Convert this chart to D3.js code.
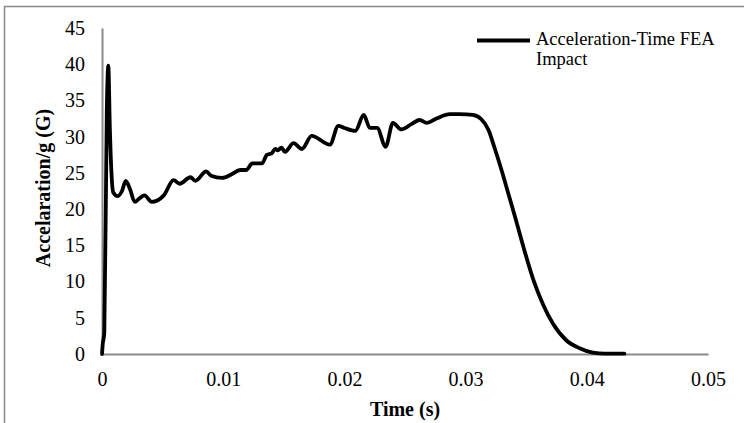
<!DOCTYPE html>
<html>
<head>
<meta charset="utf-8">
<script src="https://cdn.jsdelivr.net/npm/d3@7"></script>
<style>
  body { margin: 0; background: #fff; }
  text { font-family: "Liberation Serif", "Times New Roman", serif; fill: #000; }
</style>
</head>
<body>
<div id="chart"></div>
<script>
// data: time in s, acceleration in G
const times = [
  0, 0.00005, 0.00019, 0.0004, 0.00052, 0.00065, 0.00078, 0.00093, 0.0013, 0.00165,
  0.00196, 0.0023, 0.0027, 0.0031, 0.0035, 0.0041, 0.0051, 0.0059, 0.0064, 0.0073,
  0.0077, 0.0086, 0.009, 0.0099, 0.0107, 0.0114, 0.0119, 0.0124, 0.0132, 0.0136,
  0.014, 0.0143, 0.0145, 0.0148, 0.0151, 0.0158, 0.0165, 0.0173, 0.0188, 0.0195,
  0.02, 0.0209, 0.0216, 0.0221, 0.0227, 0.0234, 0.024, 0.0247, 0.0256, 0.0262,
  0.0268, 0.0276, 0.0287, 0.0295, 0.0306, 0.0313, 0.0319, 0.0324, 0.033, 0.0335,
  0.0341, 0.0348, 0.0356, 0.0364, 0.0372, 0.0383, 0.0394, 0.0405, 0.0415, 0.0431
];
const accel = [
  0, 1.2, 2.9, 34, 39.8, 31, 25, 22.3, 21.8, 22.5,
  23.9, 22.8, 21.0, 21.5, 21.9, 21.0, 21.9, 24.0, 23.5, 24.4,
  23.9, 25.2, 24.6, 24.3, 24.8, 25.4, 25.4, 26.3, 26.3, 27.5,
  27.7, 28.3, 28.1, 28.5, 27.9, 29.1, 28.3, 30.1, 28.9, 31.5,
  31.2, 30.8, 33.0, 31.2, 31.2, 28.6, 31.9, 31.0, 31.8, 32.3,
  31.9, 32.5, 33.1, 33.1, 33.0, 32.4, 30.9, 28.4, 25.2, 22.3,
  18.8, 14.6, 10.2, 6.8, 4.2, 1.9, 0.8, 0.2, 0.05, 0.05
];
const xTicks = [0, 0.01, 0.02, 0.03, 0.04, 0.05];
const yTicks = [0, 5, 10, 15, 20, 25, 30, 35, 40, 45];
const seriesName = ["Acceleration-Time FEA", "Impact"];

const dataset = times.map((t, i) => ({ t: t, a: accel[i] }));

const width = 744;
const height = 423;
const axisGray = "#898989";
const serif = '"Liberation Serif", "Times New Roman", serif';

let dimensions = {
  width: width,
  height: height,
  margin: { top: 28, right: 36, bottom: 69, left: 102 },
};
dimensions.boundedWidth = dimensions.width - dimensions.margin.left - dimensions.margin.right;
dimensions.boundedHeight = dimensions.height - dimensions.margin.top - dimensions.margin.bottom;

const svg = d3.select("#chart")
  .append("svg")
  .attr("width", width)
  .attr("height", height);

// chart frame (only top/left edges visible in the crop)
svg.append("rect")
  .attr("x", 4.5).attr("y", 6.5)
  .attr("width", 800).attr("height", 500)
  .attr("fill", "none")
  .attr("stroke", axisGray)
  .attr("stroke-width", 1.5);

const bounds = svg.append("g")
  .attr("transform", `translate(${dimensions.margin.left},${dimensions.margin.top})`);

const xScale = d3.scaleLinear().domain([0, 0.05]).range([0, dimensions.boundedWidth]);
const yScale = d3.scaleLinear().domain([0, 45]).range([dimensions.boundedHeight, 0]);

// axes
const xAxis = bounds.append("g")
  .attr("transform", `translate(0,${dimensions.boundedHeight})`)
  .call(d3.axisBottom(xScale).tickValues(xTicks).tickSize(0).tickPadding(18)
    .tickFormat((d) => String(+d.toFixed(2))));
const yAxis = bounds.append("g")
  .call(d3.axisLeft(yScale).tickValues(yTicks).tickSize(0).tickPadding(17));

[xAxis, yAxis].forEach((ax) => {
  ax.attr("font-family", serif).attr("font-size", 20);
  ax.select(".domain").attr("stroke", axisGray).attr("stroke-width", 2);
  ax.selectAll("text").attr("fill", "#000");
});

// line
const line = d3.line()
  .x((d) => xScale(d.t))
  .y((d) => yScale(d.a))
  .curve(d3.curveMonotoneX);

bounds.append("path")
  .datum(dataset)
  .attr("d", line)
  .attr("fill", "none")
  .attr("stroke", "#000")
  .attr("stroke-width", 3.8)
  .attr("stroke-linejoin", "round")
  .attr("stroke-linecap", "round");

// axis titles
svg.append("text")
  .attr("x", dimensions.margin.left + dimensions.boundedWidth / 2)
  .attr("y", 416)
  .attr("text-anchor", "middle")
  .style("font-size", "20px")
  .style("font-weight", "bold")
  .text("Time (s)");

svg.append("text")
  .attr("transform", `translate(50,${dimensions.margin.top + dimensions.boundedHeight / 2 - 3}) rotate(-90)`)
  .attr("text-anchor", "middle")
  .style("font-size", "20px")
  .style("font-weight", "bold")
  .text("Accelaration/g (G)");

// legend
const legend = svg.append("g");
legend.append("line")
  .attr("x1", 477).attr("x2", 530)
  .attr("y1", 40.5).attr("y2", 40.5)
  .attr("stroke", "#000")
  .attr("stroke-width", 3.8);
legend.selectAll("text")
  .data(seriesName)
  .enter()
  .append("text")
  .attr("x", 536)
  .attr("y", (d, i) => 45 + i * 20)
  .style("font-size", "18.5px")
  .text((d) => d);
</script>
</body>
</html>
